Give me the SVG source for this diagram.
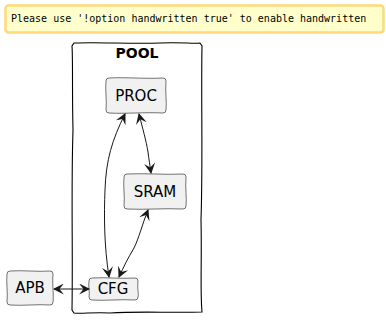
<svg xmlns="http://www.w3.org/2000/svg" width="386" height="321" viewBox="0 0 386 321">
<defs>
<style>
.box{fill:#F1F1F1;stroke:#181818;stroke-width:0.6}
.lbl{font-family:"DejaVu Sans","Liberation Sans",sans-serif;font-size:15px;fill:#000;text-anchor:middle}
.edge{fill:none;stroke:#181818;stroke-width:1}
.frame{fill:none;stroke:#000;stroke-width:1.1}
</style>
<marker id="ah" viewBox="0 0 10 10" refX="9" refY="5" markerWidth="11" markerHeight="11" markerUnits="userSpaceOnUse" orient="auto-start-reverse">
<path d="M0,0 L10,5 L0,10 L4,5 Z" fill="#181818"/>
</marker>
</defs>
<rect x="5.5" y="5.5" width="378" height="27" rx="3" fill="#FFFFCC" stroke="#FFD97A" stroke-width="2.5"/>
<text x="11" y="22" font-family="'DejaVu Sans Mono','Liberation Mono',monospace" font-size="10" fill="#000">Please use '!option handwritten true' to enable handwritten</text>
<g id="POOL">
<path class="frame" d="M74,43 C100,42 130,44 160,43 C180,42 195,44 200,43 L202,46 C201,100 203,160 201,220 C202,260 200,290 202,312 C170,313 140,311 110,313 C95,312 80,314 74,313 L72,310 C73,250 71,190 73,130 C72,90 73,60 72,46 Z"/>
<text x="137" y="58" font-family="'DejaVu Sans','Liberation Sans',sans-serif" font-size="14" font-weight="bold" text-anchor="middle">POOL</text>
</g>
<g id="PROC">
<path class="box" d="M109,78 C125,77 145,79 163,78 Q166,78 166,81 C165,92 167,102 166,110 Q166,113 163,113 C145,112 125,114 109,113 Q106,113 106,110 C107,100 105,90 106,81 Q106,78 109,78 Z"/>
<text class="lbl" x="136" y="101">PROC</text>
</g>
<g id="SRAM">
<path class="box" d="M127,174 C145,173 165,175 183,174 Q186,174 186,177 C185,188 187,198 186,206 Q186,209 183,209 C165,208 145,210 127,209 Q124,209 124,206 C125,196 123,186 124,177 Q124,174 127,174 Z"/>
<text class="lbl" x="155" y="197">SRAM</text>
</g>
<g id="CFG">
<path class="box" d="M92,278 C105,277 120,279 135,278 Q138,278 138,281 C137,288 139,294 138,297 Q138,300 135,300 C120,299 105,301 92,300 Q89,300 89,297 C90,292 88,286 89,281 Q89,278 92,278 Z"/>
<text class="lbl" x="113" y="294">CFG</text>
</g>
<g id="APB">
<path class="box" d="M10,271 C22,270 38,272 50,271 Q53,271 53,274 C52,285 54,295 53,302 Q53,305 50,305 C38,304 22,306 10,305 Q7,305 7,302 C8,292 6,282 7,274 Q7,271 10,271 Z"/>
<text class="lbl" x="30" y="293">APB</text>
</g>
<g id="connectors">
<path class="edge" marker-start="url(#ah)" marker-end="url(#ah)" d="M125,114 C112,140 106,160 105,190 C104,215 104,245 109,277"/>
<path class="edge" marker-start="url(#ah)" marker-end="url(#ah)" d="M139,114 C143,130 146,140 148,152 C149,160 150,166 151,173"/>
<path class="edge" marker-start="url(#ah)" marker-end="url(#ah)" d="M148,210 C142,225 139,238 134,248 C128,258 124,266 119,277"/>
<path class="edge" marker-start="url(#ah)" marker-end="url(#ah)" d="M54,289 L89,289"/>
</g>
</svg>
